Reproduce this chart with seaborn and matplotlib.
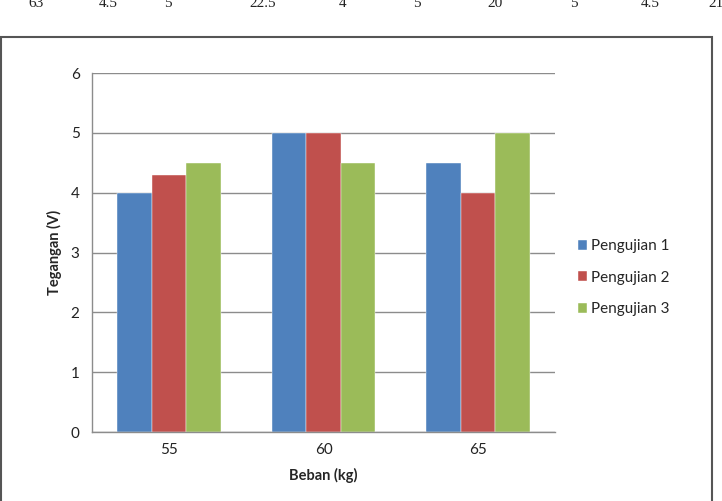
import pandas as pd
import numpy as np
import matplotlib.pyplot as plt
import seaborn as sns
from matplotlib.patches import Rectangle

beban = ["55", "60", "65"]
pengujian_1 = [4.0, 5.0, 4.5]
pengujian_2 = [4.3, 5.0, 4.0]
pengujian_3 = [4.5, 4.5, 5.0]
series_names = ["Pengujian 1", "Pengujian 2", "Pengujian 3"]
y_ticks = [0, 1, 2, 3, 4, 5, 6]

# partial table row visible above the chart
table_row = ["63", "4.5", "5", "22.5", "4", "5", "20", "5", "4.5", "21"]
table_x = [36, 108, 168, 263, 343, 417, 495, 574, 650, 716]

colors = ["#4F81BD", "#C0504D", "#9BBB59"]

df = pd.DataFrame({
    "Beban": beban * 3,
    "Tegangan": pengujian_1 + pengujian_2 + pengujian_3,
    "Seri": [s for s in series_names for _ in beban],
})

sns.set_style("white")
plt.rcParams['font.family'] = ['Lato', 'DejaVu Sans']

W, H = 722, 501
fig = plt.figure(figsize=(W / 100, H / 100), dpi=100)
ax = fig.add_axes([92 / W, (H - 432) / H, (555 - 92) / W, (432 - 73) / H])

sns.barplot(data=df, x="Beban", y="Tegangan", hue="Seri", palette=colors,
            width=0.67, gap=0, ax=ax, saturation=1, errorbar=None,
            edgecolor="white", linewidth=0.3)

ax.set_xlim(-0.5, 2.5)
ax.set_ylim(0, 6)
ax.set_yticks(y_ticks)
ax.yaxis.grid(True, color="#8C8C8C", linewidth=1)
ax.set_axisbelow(True)
for s in ["top", "right"]:
    ax.spines[s].set_visible(False)
for s in ["left", "bottom"]:
    ax.spines[s].set_color("#8C8C8C")
    ax.spines[s].set_linewidth(1)

ax.set_xticks([-0.5, 0.5, 1.5, 2.5], minor=True)
ax.tick_params(axis="x", which="major", length=0, labelsize=11, pad=8, labelcolor="#222222")
ax.tick_params(axis="x", which="minor", length=5, color="#8C8C8C", direction="out")
ax.tick_params(axis="y", length=5, color="#8C8C8C", direction="out", labelsize=11, pad=4,
               labelcolor="#222222")

ax.set_xlabel("Beban (kg)", fontsize=10.5, fontweight="bold", labelpad=8)
ax.set_ylabel("Tegangan (V)", fontsize=10.5, fontweight="bold", labelpad=6)

leg = ax.legend(loc="center left", bbox_to_anchor=(1.02, 0.43), frameon=False,
                fontsize=11, handlelength=0.6, handleheight=0.6, handletextpad=0.25,
                labelspacing=1.15)

# chart outer border
fig.patches.append(Rectangle((1 / W, -0.05), 711 / W, (H - 37) / H + 0.05,
                             transform=fig.transFigure, fill=False,
                             edgecolor="#555555", linewidth=1.5))

for t, x in zip(table_row, table_x):
    fig.text(x / W, (H - 7) / H, t, ha="center", va="baseline", fontsize=11,
             family=["Liberation Serif", "DejaVu Serif"], color="#222222")

fig.savefig("out.png", dpi=100)
